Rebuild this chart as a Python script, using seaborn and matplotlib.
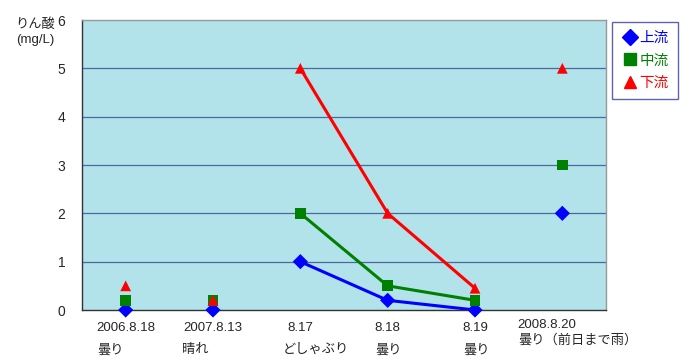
import matplotlib
matplotlib.use('Agg')
import matplotlib.pyplot as plt
import matplotlib.transforms as mtransforms
from matplotlib.lines import Line2D
import seaborn as sns
import pandas as pd

# --- dados ---
datas = ['2006.8.18', '2007.8.13', '8.17', '8.18', '8.19', '2008.8.20']
tempo = ['曇り', '晴れ', 'どしゃぶり', '曇り', '曇り', '曇り（前日まで雨）']
series = ['上流', '中流', '下流']
jouryu = [0, 0, 1, 0.2, 0, 2]
chuuryu = [0.2, 0.2, 2, 0.5, 0.2, 3]
karyu = [0.5, 0.2, 5, 2, 0.45, 5]
idx_linha = [2, 3, 4]   # só 8.17 - 8.19 ligados

# layout: borda esquerda (px) do texto do tempo
tempo_x_px = [97, 182, 283, 375, 463, 518]

cores = {'上流': '#0000FF', '中流': '#008000', '下流': '#FF0000'}
marcadores = {'上流': 'D', '中流': 's', '下流': '^'}

linhas = []
for nome, vals in zip(series, [jouryu, chuuryu, karyu]):
    for i, v in enumerate(vals):
        linhas.append({'pos': i, 'valor': v, 'serie': nome})
df = pd.DataFrame(linhas)
df_linha = df[df['pos'].isin(idx_linha)]

sns.set_style('white')
plt.rcParams['font.family'] = ['Liberation Sans', 'Noto Sans CJK JP', 'DejaVu Sans']

W, H = 700, 362
fig = plt.figure(figsize=(7, 3.62), dpi=100)
ax = fig.add_axes([82 / W, 1 - 310 / H, 524 / W, 290 / H])
ax.set_facecolor('#B2E2EA')

for y in range(1, 6):
    ax.axhline(y, color='#4A6A9C', lw=0.9, zorder=1)

sns.lineplot(data=df_linha, x='pos', y='valor', hue='serie', palette=cores,
             lw=2.2, legend=False, ax=ax, zorder=2)
sns.scatterplot(data=df, x='pos', y='valor', hue='serie', style='serie',
                palette=cores, markers=marcadores, s=60, edgecolor='none',
                legend=False, ax=ax, zorder=3, clip_on=False)

ax.set_xlim(-0.5, 5.5)
ax.set_ylim(0, 6)
ax.set_yticks(range(0, 7))
ax.set_yticklabels([str(v) for v in range(0, 7)], fontsize=10)
ax.tick_params(axis='y', length=0, pad=12)
ax.set_xticks([i - 0.5 for i in range(1, 6)])
ax.set_xticklabels([])
ax.tick_params(axis='x', direction='in', length=4, color='#333333')
ax.set_xlabel('')
ax.set_ylabel('')

for lado in ['top', 'right']:
    ax.spines[lado].set_color('#999999')
    ax.spines[lado].set_linewidth(1)
for lado in ['left', 'bottom']:
    ax.spines[lado].set_color('#333333')
    ax.spines[lado].set_linewidth(1)

trans = mtransforms.blended_transform_factory(ax.transData, fig.transFigure)
for i, (d, t) in enumerate(zip(datas, tempo)):
    if i == len(datas) - 1:
        fig.text(517 / W, 1 - 325 / H, d, ha='left', va='center', fontsize=9.5)
        fig.text(tempo_x_px[i] / W, 1 - 340 / H, t, ha='left', va='center',
                 fontsize=9.5)
    else:
        ax.text(i, 1 - 328 / H, d, transform=trans, ha='center',
                va='center', fontsize=9.5)
        fig.text(tempo_x_px[i] / W, 1 - 350 / H, t, ha='left', va='center',
                 fontsize=9.5)

fig.text(35 / W, 1 - 32 / H, 'りん酸\n(mg/L)', ha='center', va='center',
         fontsize=9.5, linespacing=1.3)

handles = [Line2D([], [], marker=marcadores[n], color=cores[n], ls='none',
                  markersize=8) for n in series]
leg = fig.legend(handles, series, loc='upper left',
                 bbox_to_anchor=(612 / W, 1 - 22 / H), borderaxespad=0,
                 frameon=True, fancybox=False,
                 edgecolor='#3A3AA0', fontsize=10.5, handletextpad=0.1,
                 handlelength=1.2, labelspacing=0.6, borderpad=0.6,
                 labelcolor=[cores[n] for n in series])
leg.get_frame().set_linewidth(1)

fig.savefig('out.png', dpi=100)
plt.close('all')
